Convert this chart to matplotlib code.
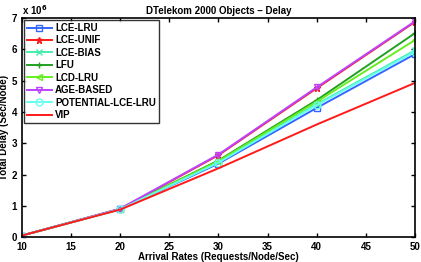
import numpy as np
import matplotlib.pyplot as plt

rates = [10, 20, 30, 40, 50]
# delay values in units of 1e6
lce_lru = [0.05, 0.89, 2.35, 4.13, 5.85]
lce_unif = [0.05, 0.90, 2.62, 4.76, 6.88]
lce_bias = [0.05, 0.89, 2.40, 4.25, 5.97]
lfu = [0.05, 0.90, 2.45, 4.38, 6.52]
lcd_lru = [0.05, 0.90, 2.43, 4.33, 6.30]
age_based = [0.05, 0.91, 2.64, 4.79, 6.90]
potential = [0.05, 0.89, 2.38, 4.22, 5.93]
vip = [0.05, 0.88, 2.20, 3.60, 4.93]

plt.rcParams['font.family'] = ['Liberation Sans', 'DejaVu Sans']
plt.rcParams['font.weight'] = 'bold'

fig = plt.figure(figsize=(4.21, 2.62), dpi=100)
ax = fig.add_axes([0.052, 0.095, 0.934, 0.836])

series = [
    ('LCE-LRU', lce_lru, '#3366ff', 's'),
    ('LCE-UNIF', lce_unif, '#ff1a1a', '*'),
    ('LCE-BIAS', lce_bias, '#44eeaa', 'x'),
    ('LFU', lfu, '#22a022', '+'),
    ('LCD-LRU', lcd_lru, '#66ee22', '<'),
    ('AGE-BASED', age_based, '#bb44ff', 'v'),
    ('POTENTIAL-LCE-LRU', potential, '#66ffee', 'o'),
    ('VIP', vip, '#ff1a1a', None),
]
for name, vals, col, mk in series:
    ax.plot(rates, vals, color=col, marker=mk, ms=5, mfc='none', mew=1.0,
            lw=1.4, label=name)

ax.set_xlim(10, 50)
ax.set_ylim(0, 7)
ax.set_xticks(np.arange(10, 51, 5))
ax.set_yticks(np.arange(0, 8, 1))
ax.tick_params(direction='in', top=True, right=True, labelsize=7, length=3, width=1)
for lbl in ax.get_xticklabels() + ax.get_yticklabels():
    lbl.set_fontweight('bold')
for sp in ax.spines.values():
    sp.set_linewidth(1.2)

ax.set_title('DTelekom 2000 Objects \u2013 Delay', fontsize=7, fontweight='bold', pad=3)
ax.set_xlabel('Arrival Rates (Requests/Node/Sec)', fontsize=7, fontweight='bold', labelpad=0)
ax.set_ylabel('Total Delay (Sec/Node)', fontsize=7, fontweight='bold', labelpad=2)
ax.text(0.0, 1.005, 'x 10$^6$', transform=ax.transAxes, fontsize=7, fontweight='bold',
        ha='left', va='bottom')

leg = ax.legend(loc='upper left', fontsize=7, frameon=True, fancybox=False,
                edgecolor='black', borderpad=0.3, labelspacing=0.25,
                handlelength=2.6, handletextpad=0.3, borderaxespad=0.2)
leg.get_frame().set_linewidth(1.0)
for t in leg.get_texts():
    t.set_fontweight('bold')

fig.savefig('out.png', dpi=100)
